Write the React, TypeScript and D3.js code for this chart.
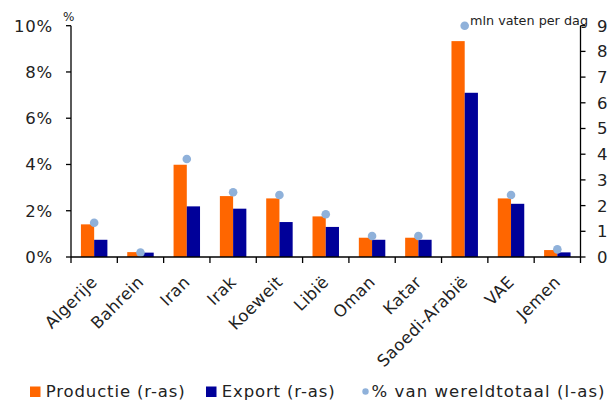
import React from "react";
import * as d3 from "d3";

const categories = ["Algerije", "Bahrein", "Iran", "Irak", "Koeweit", "Libië", "Oman", "Katar", "Saoedi-Arabië", "VAE", "Jemen"];
const productie = [1.27, 0.19, 3.59, 2.37, 2.28, 1.58, 0.75, 0.75, 8.4, 2.28, 0.27];
const exportVals = [0.67, 0.17, 1.97, 1.88, 1.36, 1.17, 0.67, 0.67, 6.39, 2.07, 0.18];
const wereldPct = [1.48, 0.19, 4.24, 2.8, 2.68, 1.85, 0.91, 0.91, 10.0, 2.68, 0.33];
const leftTicks = [0, 2, 4, 6, 8, 10];
const rightTicks = [0, 1, 2, 3, 4, 5, 6, 7, 8, 9];
const series = ["Productie (r-as)", "Export (r-as)"];
const dotLabel = "% van wereldtotaal (l-as)";
const leftTitle = "%";
const rightTitle = "mln vaten per dag";

const ORANGE = "#FF6600";
const NAVY = "#000099";
const DOT = "#8FB1DA";
const FONT = "'DejaVu Sans', Verdana, sans-serif";

export default function App() {
  const W = 609, H = 400;
  const left = 71, right = 580.5, top = 25.7, bottom = 257;
  const x = d3.scaleBand<string>().domain(categories).range([left, right]).padding(0);
  const bw = x.bandwidth();
  const x1 = d3.scaleBand<string>().domain(series).range([0, bw]).paddingInner(0).paddingOuter(0.75);
  const yL = d3.scaleLinear().domain([0, 10]).range([bottom, top]);
  const yR = d3.scaleLinear().domain([0, 9]).range([bottom, top]);
  const colors = [ORANGE, NAVY];
  const vals = [productie, exportVals];

  return (
    <svg width={W} height={H} style={{ position: "absolute", left: 0, top: 0, background: "#fff" }} fontFamily={FONT}>
      {/* bars */}
      {categories.map((c, i) => (
        <g key={c}>
          {series.map((s, j) => (
            <rect
              key={s}
              x={(x(c) as number) + (x1(s) as number)}
              y={yR(vals[j][i])}
              width={x1.bandwidth()}
              height={bottom - yR(vals[j][i])}
              fill={colors[j]}
            />
          ))}
        </g>
      ))}
      {/* dots */}
      {categories.map((c, i) => (
        <circle key={c} cx={(x(c) as number) + bw / 2} cy={yL(wereldPct[i])} r={4.3} fill={DOT} />
      ))}
      {/* left axis */}
      <line x1={left} x2={left} y1={top} y2={bottom} stroke="#000" strokeWidth={1.3} />
      {leftTicks.map((t) => (
        <g key={t}>
          <line x1={left - 5} x2={left} y1={yL(t)} y2={yL(t)} stroke="#000" strokeWidth={1.3} />
          <text x={left - 18} y={yL(t)} dy="0.36em" textAnchor="end" fontSize={16.5} letterSpacing={0.8} fill="#222">
            {t}%
          </text>
        </g>
      ))}
      <text x={63} y={21} fontSize={12} fill="#222">{leftTitle}</text>
      {/* right axis */}
      <line x1={right} x2={right} y1={top} y2={bottom} stroke="#000" strokeWidth={1.3} />
      {rightTicks.map((t) => (
        <g key={t}>
          <line x1={right} x2={right + 5} y1={yR(t)} y2={yR(t)} stroke="#000" strokeWidth={1.3} />
          <text x={right + 16.5} y={yR(t)} dy="0.36em" textAnchor="start" fontSize={16.5} fill="#222">
            {t}
          </text>
        </g>
      ))}
      <text x={470} y={24.5} fontSize={12.8} fill="#222" textLength={118} lengthAdjust="spacing">{rightTitle}</text>
      {/* x axis */}
      <line x1={left} x2={right} y1={bottom} y2={bottom} stroke="#000" strokeWidth={1.3} />
      {[...categories.map((c) => x(c) as number), right].map((px, i) => (
        <line key={i} x1={px} x2={px} y1={bottom} y2={bottom + 6} stroke="#000" strokeWidth={1.3} />
      ))}
      {categories.map((c) => (
        <text
          key={c}
          transform={`translate(${(x(c) as number) + bw / 2},${279}) rotate(-45)`}
          dy="0.35em"
          textAnchor="end"
          fontSize={16.5}
          letterSpacing={0.4}
          fill="#222"
        >
          {c}
        </text>
      ))}
      {/* legend */}
      <rect x={30} y={386.5} width={10.5} height={10.5} fill={ORANGE} />
      <text x={45.7} y={397.3} fontSize={16.5} fill="#222" textLength={139} lengthAdjust="spacing">{series[0]}</text>
      <rect x={206} y={386.5} width={10.5} height={10.5} fill={NAVY} />
      <text x={221.7} y={397.3} fontSize={16.5} fill="#222" textLength={113} lengthAdjust="spacing">{series[1]}</text>
      <circle cx={365.5} cy={391.5} r={3.2} fill={DOT} />
      <text x={371.5} y={397.3} fontSize={16.5} fill="#222" textLength={233} lengthAdjust="spacing">{dotLabel}</text>
    </svg>
  );
}
